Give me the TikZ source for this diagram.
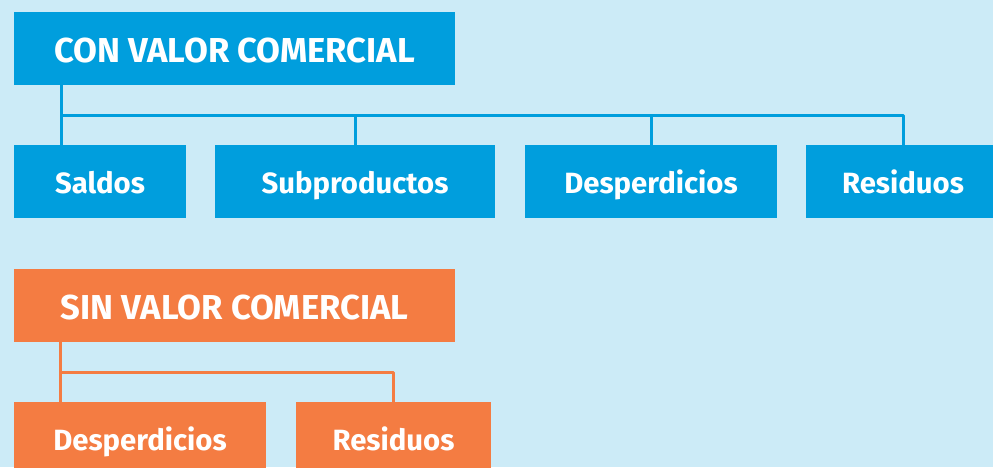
\documentclass[tikz,border=0pt]{standalone}
\usepackage{fontspec}
\setmainfont{Fira Sans}
\definecolor{bgc}{RGB}{204,235,247}
\definecolor{bluec}{RGB}{0,158,221}
\definecolor{orangec}{RGB}{244,124,66}
\begin{document}
\begin{tikzpicture}[x=1pt,y=-1pt,
  box/.style={inner sep=0pt, text=white, font=\bfseries\fontsize{29.3}{32}\selectfont, minimum height=73pt, text height=25pt, text depth=2pt},
  head/.style={box, font=\bfseries\fontsize{34.6}{40}\selectfont, minimum width=441pt, text height=28pt, text depth=1pt},
  bluebox/.style={fill=bluec},
  orangebox/.style={fill=orangec},
  bline/.style={draw=bluec, line width=3pt, line join=round},
  oline/.style={draw=orangec, line width=3pt, line join=round}]
\useasboundingbox (0,0) rectangle (993,467);
\fill[bgc] (0,0) rectangle (993,467);
\begin{scope}
\clip (0,0) rectangle (993,467);
% blue group
\node[head, bluebox] (con) at (234.5,48.5) {CON VALOR COMERCIAL};
\node[box, bluebox, minimum width=172pt] (saldos) at (100,181.5) {Saldos};
\node[box, bluebox, minimum width=280pt] (subp) at (355,181.5) {Subproductos};
\node[box, bluebox, minimum width=252pt] (desp) at (651,181.5) {Desperdicios};
\node[box, bluebox, minimum width=194pt] (resid) at (903,181.5) {Residuos};
\coordinate (hb) at (61,115);
\draw[bline] (con.south -| hb) -- (saldos.north -| hb);
\draw[bline] (hb) -| (resid.north);
\draw[bline] (hb -| subp.north) -- (subp.north);
\draw[bline] (hb -| desp.north) -- (desp.north);
% orange group
\node[head, orangebox] (sin) at (234.5,305.5) {SIN VALOR COMERCIAL};
\node[box, orangebox, minimum width=252pt] (desp2) at (140,438.5) {Desperdicios};
\node[box, orangebox, minimum width=195pt] (resid2) at (393.5,438.5) {Residuos};
\coordinate (ho) at (60,372);
\draw[oline] (sin.south -| ho) -- (desp2.north -| ho);
\draw[oline] (ho) -| (resid2.north);
\end{scope}
\end{tikzpicture}
\end{document}
